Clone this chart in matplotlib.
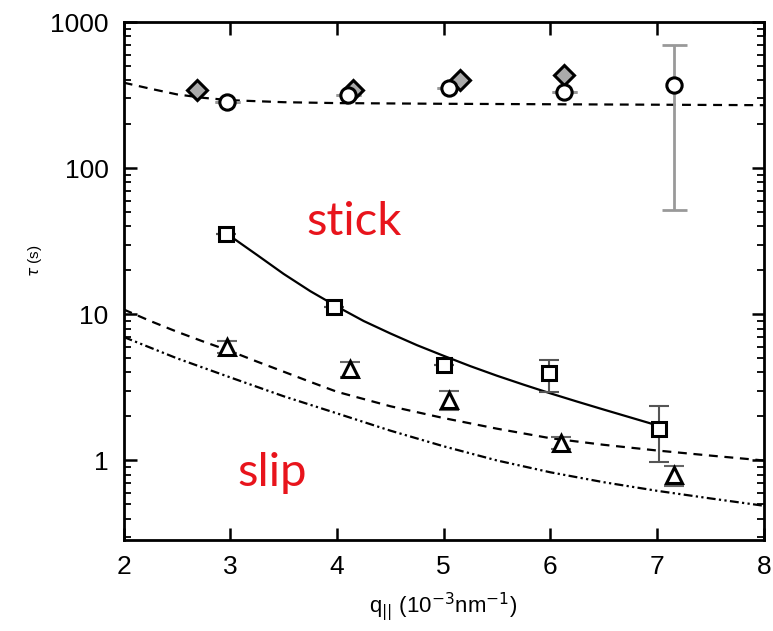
import matplotlib.pyplot as plt
import numpy as np
from matplotlib.ticker import LogLocator, NullFormatter, FixedLocator

# measured relaxation times
q_dia = [2.69, 4.15, 5.15, 6.13]
tau_dia = [344, 344, 402, 435]

q_circ = [2.97, 4.10, 5.05, 6.13, 7.16]
tau_circ = [285, 318, 355, 333, 372]
circ_lo = [0, 0, 0, 0, 320]
circ_hi = [0, 0, 0, 0, 325]

q_sq = [2.96, 3.97, 5.00, 5.99, 7.02]
tau_sq = [35.5, 11.3, 4.5, 3.95, 1.65]
sq_lo = [0, 0, 0, 1.0, 0.67]
sq_hi = [0, 0, 0, 0.95, 0.70]

q_tri = [2.97, 4.12, 5.05, 6.10, 7.16]
tau_tri = [6.0, 4.2, 2.6, 1.32, 0.79]
tri_err = [0.6, 0.5, 0.4, 0.12, 0.12]

# model curves
q_top = [2.0, 2.25, 2.5, 2.75, 3.0, 3.5, 4.0, 5.0, 6.0, 7.0, 8.0]
tau_top = [385, 350, 320, 303, 292, 283, 279, 276, 274, 272, 270]

q_stick = [2.97, 3.25, 3.5, 3.75, 4.0, 4.25, 4.5, 4.75, 5.0, 5.25, 5.5,
           5.75, 6.0, 6.25, 6.5, 6.75, 7.0]
tau_stick = [35.5, 25.5, 18.9, 14.4, 11.3, 9.0, 7.4, 6.15, 5.2, 4.42, 3.8,
             3.3, 2.88, 2.53, 2.23, 1.97, 1.74]

q_mid = [2.0, 2.25, 2.5, 2.75, 3.0, 3.25, 3.5, 3.75, 4.0, 4.5, 5.0, 5.5,
         6.0, 6.5, 7.0, 7.5, 8.0]
tau_mid = [10.8, 9.0, 7.6, 6.5, 5.6, 4.75, 4.05, 3.45, 2.95, 2.35, 1.95,
           1.65, 1.42, 1.28, 1.17, 1.08, 1.0]

q_slip = [2.0, 2.5, 3.0, 3.5, 4.0, 4.5, 5.0, 5.5, 6.0, 6.5, 7.0, 7.5, 8.0]
tau_slip = [7.0, 5.0, 3.7, 2.75, 2.1, 1.6, 1.25, 1.0, 0.83, 0.71, 0.62, 0.55, 0.49]

plt.rcParams['font.family'] = ['Liberation Sans', 'DejaVu Sans']

fig = plt.figure(figsize=(7.73, 6.31), dpi=100)
ax = fig.add_axes([0.160, 0.144, 0.828, 0.821])

ax.plot(q_top, tau_top, color='k', lw=1.6, ls=(0, (4, 3)))
ax.plot(q_stick, tau_stick, color='k', lw=1.6)
ax.plot(q_mid, tau_mid, color='k', lw=1.6, ls=(0, (4, 3)))
ax.plot(q_slip, tau_slip, color='k', lw=1.6, ls=(0, (4, 1.5, 1, 1.5, 1, 1.5)))

ax.errorbar(q_circ, tau_circ, yerr=[circ_lo, circ_hi], fmt='none',
            ecolor='#999999', elinewidth=2, capsize=9, capthick=2)
ax.errorbar(q_sq, tau_sq, yerr=[sq_lo, sq_hi], fmt='none',
            ecolor='#555555', elinewidth=1.5, capsize=7, capthick=1.5)
ax.errorbar(q_tri, tau_tri, yerr=tri_err, fmt='none',
            ecolor='#666666', elinewidth=1.5, capsize=7, capthick=1.5)

ax.plot(q_dia, tau_dia, 'D', ms=10, mfc='#aaaaaa', mec='k', mew=2.2)
ax.plot(q_circ, tau_circ, 'o', ms=11, mfc='white', mec='k', mew=2.2)
ax.plot(q_sq, tau_sq, 's', ms=10, mfc='white', mec='k', mew=2.2)
ax.plot(q_tri, tau_tri, '^', ms=12, mfc='white', mec='k', mew=2.2)

ax.text(4.16, 43, 'stick', color='#e8141c', fontsize=34,
        family=['Lato', 'DejaVu Sans'], ha='center', va='center')
ax.text(3.39, 0.82, 'slip', color='#e8141c', fontsize=34,
        family=['Lato', 'DejaVu Sans'], ha='center', va='center')

ax.set_yscale('log')
ax.set_xlim(2, 8)
ax.set_ylim(0.285, 1000)
ax.xaxis.set_major_locator(FixedLocator([2, 3, 4, 5, 6, 7, 8]))
ax.set_xticklabels(['2', '3', '4', '5', '6', '7', '8'])
ax.yaxis.set_major_locator(FixedLocator([1, 10, 100, 1000]))
ax.set_yticklabels(['1', '10', '100', '1000'])
ax.yaxis.set_minor_locator(LogLocator(base=10, subs=np.arange(2, 10)))
ax.yaxis.set_minor_formatter(NullFormatter())

ax.tick_params(which='both', direction='in', top=True, right=True,
               labelsize=19, width=1.8, pad=11)
ax.tick_params(which='major', length=9)
ax.tick_params(which='minor', length=5, width=1.3)
for s in ax.spines.values():
    s.set_linewidth(2)

ax.set_xlabel(r'q$_{||}$ (10$^{-3}$nm$^{-1}$)', fontsize=16, labelpad=8)
ax.set_ylabel(r'$\tau$ (s)', fontsize=11, labelpad=22)
ax.yaxis.set_label_coords(-0.125, 0.54)

fig.savefig('out.png', dpi=100)
